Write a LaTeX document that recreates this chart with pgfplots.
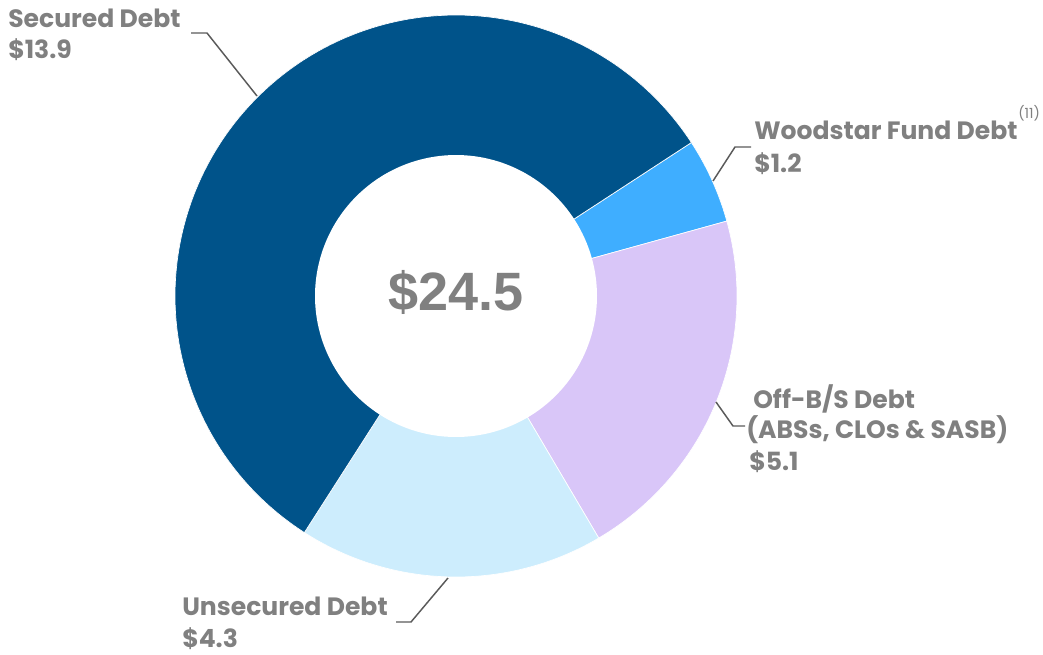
\documentclass[border=0pt]{standalone}
\usepackage{pgfplots}
\usepackage{pgfplotstable}
\pgfplotsset{compat=1.18}
\usepackage{fontspec}
\newfontfamily\labfont{Poppins}
\newfontfamily\numfont{Liberation Sans}
\definecolor{cSecured}{RGB}{0,83,138}
\definecolor{cWood}{RGB}{63,174,255}
\definecolor{cOff}{RGB}{217,198,248}
\definecolor{cUnsec}{RGB}{205,237,253}
\definecolor{labgray}{RGB}{128,128,128}
\definecolor{linegray}{RGB}{90,90,90}

\pgfplotstableread{
label value
Woodstar 1.2
OffBS 5.1
Unsecured 4.3
Secured 13.9
}\debttable

\begin{document}
\begin{tikzpicture}
\pgfplotstablegetelem{0}{value}\of\debttable \let\vA\pgfplotsretval
\pgfplotstablegetelem{1}{value}\of\debttable \let\vB\pgfplotsretval
\pgfplotstablegetelem{2}{value}\of\debttable \let\vC\pgfplotsretval
\pgfplotstablegetelem{3}{value}\of\debttable \let\vD\pgfplotsretval
\pgfmathsetmacro\tot{\vA+\vB+\vC+\vD}
\pgfmathsetmacro\aA{33.1}
\pgfmathsetmacro\aB{\aA-360*\vA/\tot}
\pgfmathsetmacro\aC{\aB-360*\vB/\tot}
\pgfmathsetmacro\aD{\aC-360*\vC/\tot}
\pgfmathsetmacro\aE{\aD-360*\vD/\tot}
\begin{axis}[
  width=782.25pt, height=490.5pt, scale only axis,
  xmin=0, xmax=1043, ymin=0, ymax=654, y dir=reverse,
  hide axis, clip=false,
]
\addplot[draw=none] coordinates {(0,0) (1043,654)};
% slices
\addplot[fill=cWood, draw=white, line width=0.5pt, domain=\aB:\aA, samples=30, variable=\t]
  ({456+281*cos(\t)}, {296-281*sin(\t)}) -- (axis cs:456,296) -- cycle;
\addplot[fill=cOff, draw=white, line width=0.5pt, domain=\aC:\aB, samples=80, variable=\t]
  ({456+281*cos(\t)}, {296-281*sin(\t)}) -- (axis cs:456,296) -- cycle;
\addplot[fill=cUnsec, draw=white, line width=0.5pt, domain=\aD:\aC, samples=70, variable=\t]
  ({456+281*cos(\t)}, {296-281*sin(\t)}) -- (axis cs:456,296) -- cycle;
\addplot[fill=cSecured, draw=white, line width=0.5pt, domain=\aE:\aD, samples=160, variable=\t]
  ({456+281*cos(\t)}, {296-281*sin(\t)}) -- (axis cs:456,296) -- cycle;
% hole
\addplot[fill=white, draw=none, domain=0:360, samples=180, variable=\t]
  ({456+141*cos(\t)}, {296-141*sin(\t)}) -- cycle;
% leader lines
\addplot[linegray, line width=1.1pt, no marks] coordinates {(191,33) (207,33) (257,96)};
\addplot[linegray, line width=1.1pt, no marks] coordinates {(751,147) (735,147) (713,181)};
\addplot[linegray, line width=1.1pt, no marks] coordinates {(716,402) (733,426) (745,426)};
\addplot[linegray, line width=1.1pt, no marks] coordinates {(396,622) (411,622) (448,578)};
% labels
\tikzset{lab/.style={anchor=base west, inner sep=0pt, text=labgray, font=\labfont\bfseries\fontsize{18.8}{24}\selectfont}}
\node[lab] at (axis cs:8,27) {Secured Debt};
\node[lab] at (axis cs:8,58) {\$13.9};
\node[lab] at (axis cs:754,139) {Woodstar Fund Debt};
\node[lab] at (axis cs:754,172) {\$1.2};
\node[anchor=base west, inner sep=0pt, text=labgray, font=\labfont\fontsize{10.5}{12}\selectfont] at (axis cs:1018,118) {(11)};
\node[lab] at (axis cs:753,408) {Off-B/S Debt};
\node[lab] at (axis cs:746,438) {(ABSs, CLOs \& SASB)};
\node[lab] at (axis cs:749,470) {\$5.1};
\node[lab] at (axis cs:182,615) {Unsecured Debt};
\node[lab] at (axis cs:182,647) {\$4.3};
\node[anchor=base, inner sep=0pt, text=labgray, font=\numfont\bfseries\fontsize{40.5}{44}\selectfont] at (axis cs:456,310) {\$24.5};
\end{axis}
\end{tikzpicture}
\end{document}
